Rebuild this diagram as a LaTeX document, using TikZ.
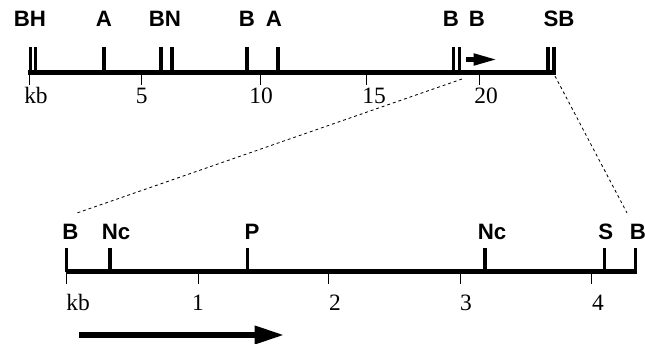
\documentclass[tikz,border=0pt]{standalone}
\usepackage{fontspec}
\setmainfont{Liberation Serif}
\newfontfamily\sitefont{Liberation Sans}
\usetikzlibrary{arrows.meta}

\begin{document}
\begin{tikzpicture}[
  x=0.03cm, y=-0.03cm,
  site/.style={font=\sitefont\bfseries\fontsize{19}{19}\selectfont, inner sep=0pt, anchor=base},
  kbnum/.style={font=\fontsize{20}{20}\selectfont, inner sep=0pt, anchor=base},
  mapline/.style={line width=3.5pt},
  cut/.style={line width=2.9pt},
  scaletick/.style={line width=0.6pt},
  zoomline/.style={dash pattern=on 2.5pt off 2.5pt, line width=0.7pt},
]
\useasboundingbox (0,0) rectangle (645,344);

% --- Upper map: whole region, about 23 kb ---
\coordinate (top-start) at (28,72.5);
\coordinate (top-end) at (556,72.5);
\draw[mapline] (top-start) -- (top-end);

% scale ticks and numbers under the line
\foreach \x in {29,141.7,260,366.7,479.3}
  \draw[scaletick] (\x,72.5) -- (\x,85);
\foreach \x/\lbl [count=\i] in {36/kb,141.7/5,261/10,374/15,486/20}
  \node[kbnum] (top-num-\i) at (\x,104) {\lbl};

% restriction sites
\foreach \x in {30.5,35.5,104,161,172,247,278,453.5,459.5,548,554}
  \draw[cut] (\x,47) -- (\x,72.5);
\foreach \x/\lbl [count=\i] in {30/BH,104/A,165/BN,247/B,274/A,451/B,477/B,559/SB}
  \node[site] (top-site-\i) at (\x,27) {\lbl};

% direction of transcription
\coordinate (top-arr-a) at (466,59.5);
\coordinate (top-arr-b) at (497,59.5);
\draw[line width=3.8pt, -{Triangle[length=20pt, width=9.5pt]}] (top-arr-a) -- (top-arr-b);

% --- Lower map: enlarged B--B fragment ---
\coordinate (low-start) at (65.5,271.5);
\coordinate (low-end) at (637,271.5);
\draw[mapline] (low-start) -- (low-end);

\foreach \x in {66.7,198,328.3,460,591.7}
  \draw[scaletick] (\x,271.5) -- (\x,284);
\foreach \x/\lbl [count=\i] in {78/kb,198/1,335/2,466/3,598/4}
  \node[kbnum] (low-num-\i) at (\x,310) {\lbl};

\foreach \x in {66.7,110,247.3,485,604.3,635.5}
  \draw[cut] (\x,248) -- (\x,271.5);
\foreach \x/\lbl [count=\i] in {70.5/B,116/Nc,252/P,492/Nc,605.7/S,638/B}
  \node[site] (low-site-\i) at (\x,240) {\lbl};

\coordinate (low-arr-a) at (79,335);
\coordinate (low-arr-b) at (285,335);
\draw[line width=5.7pt, -{Triangle[length=26pt, width=14.5pt]}] (low-arr-a) -- (low-arr-b);

% dashed lines linking the fragment to its place on the upper map
\coordinate (zoom-left-top) at (462,79);
\coordinate (zoom-left-low) at (77,213);
\coordinate (zoom-right-top) at (555,76);
\coordinate (zoom-right-low) at (627,213);
\draw[zoomline] (zoom-left-top) -- (zoom-left-low);
\draw[zoomline] (zoom-right-top) -- (zoom-right-low);

\end{tikzpicture}
\end{document}
